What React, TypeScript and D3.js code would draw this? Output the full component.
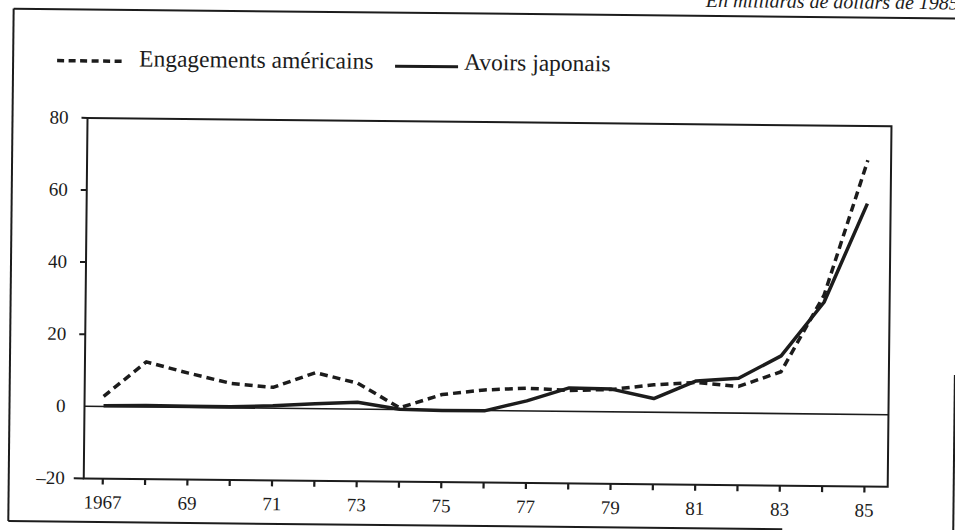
import React from 'react';
import * as d3 from 'd3';

const years = [1967, 1968, 1969, 1970, 1971, 1972, 1973, 1974, 1975, 1976, 1977, 1978, 1979, 1980, 1981, 1982, 1983, 1984, 1985];
const engagementsUS = [2.8, 12.5, 9.5, 6.8, 5.8, 10.0, 7.2, 0.5, 4.3, 5.7, 6.3, 5.8, 6.2, 7.6, 8.4, 7.4, 11.6, 33, 70.5];
const avoirsJapon = [0.2, 0.4, 0.3, 0.3, 0.7, 1.4, 1.9, 0.1, -0.1, -0.1, 2.8, 6.5, 6.3, 3.8, 8.8, 9.7, 16, 31, 58.5];
const yTicks = [-20, 0, 20, 40, 60, 80];
const xLabelYears = [1967, 1969, 1971, 1973, 1975, 1977, 1979, 1981, 1983, 1985];
const xLabelTexts = ['1967', '69', '71', '73', '75', '77', '79', '81', '83', '85'];
const yLabelTexts = ['–20', '0', '20', '40', '60', '80'];
const legendLabels = ['Engagements américains', 'Avoirs japonais'];
const unitNote = 'En milliards de dollars de 1985';

const W = 955;
const H = 530;
const frame = { left: 86, right: 890, top: 122, bottom: 482.5 };
const ink = '#1c1c1c';
const font = '"Liberation Serif", "Times New Roman", serif';

export default function App() {
  const x = d3.scaleLinear().domain([1966.55, 1985.55]).range([frame.left, frame.right]);
  const y = d3.scaleLinear().domain([-20, 80]).range([frame.bottom, frame.top]);
  const line = d3
    .line<number>()
    .x((_, i) => x(years[i]))
    .y((d) => y(d))
    .curve(d3.curveLinear);

  return (
    <svg
      width={W}
      height={H}
      viewBox={`0 0 ${W} ${H}`}
      style={{ position: 'absolute', left: 0, top: 0, background: '#fff' }}
    >
      <rect x={0} y={0} width={W} height={H} fill="#fff" />
      <g transform="rotate(0.6 477 265)">
        {/* outer scan frame */}
        <line x1={11} x2={960} y1={13.5} y2={13.5} stroke={ink} strokeWidth={2} />
        <line x1={11} x2={11} y1={13.5} y2={526} stroke={ink} strokeWidth={2} />
        <line x1={11} x2={785} y1={526} y2={526} stroke={ink} strokeWidth={2} />
        <line x1={956} x2={956} y1={370} y2={540} stroke={ink} strokeWidth={2} />

        {/* unit note, cut at top as in the scan */}
        <text
          x={703}
          y={4.5}
          fontFamily={font}
          fontStyle="italic"
          fontSize={20}
          fill={ink}
        >
          {unitNote}
        </text>

        {/* legend */}
        <line x1={55} x2={123} y1={65} y2={65} stroke={ink} strokeWidth={3.5} strokeDasharray="7,4.5" />
        <text x={137} y={70} fontFamily={font} fontSize={23.5} fill={ink}>
          {legendLabels[0]}
        </text>
        <line x1={393} x2={456} y1={67} y2={67} stroke={ink} strokeWidth={3} />
        <text x={462} y={70} fontFamily={font} fontSize={23.5} fill={ink}>
          {legendLabels[1]}
        </text>

        {/* plot frame */}
        <rect
          x={frame.left}
          y={frame.top}
          width={frame.right - frame.left}
          height={frame.bottom - frame.top}
          fill="none"
          stroke={ink}
          strokeWidth={2}
        />
        {/* zero line */}
        <line x1={frame.left} x2={frame.right} y1={y(0)} y2={y(0)} stroke={ink} strokeWidth={1.6} />

        {/* y ticks & labels */}
        {yTicks.map((t, i) => (
          <g key={t}>
            {t !== 0 && (
              <line
                x1={frame.left - (t === -20 ? 10 : 6)}
                x2={frame.left}
                y1={y(t)}
                y2={y(t)}
                stroke={ink}
                strokeWidth={2}
              />
            )}
            <text
              x={67}
              y={y(t) + 6}
              textAnchor="end"
              fontFamily={font}
              fontSize={19}
              fill={ink}
            >
              {yLabelTexts[i]}
            </text>
          </g>
        ))}

        {/* x ticks */}
        {years.map((yr) => (
          <line
            key={yr}
            x1={x(yr)}
            x2={x(yr)}
            y1={frame.bottom}
            y2={frame.bottom + 6}
            stroke={ink}
            strokeWidth={2.2}
          />
        ))}
        {xLabelYears.map((yr, i) => (
          <text
            key={yr}
            x={x(yr)}
            y={512.5}
            textAnchor="middle"
            fontFamily={font}
            fontSize={19}
            fill={ink}
          >
            {xLabelTexts[i]}
          </text>
        ))}

        {/* series */}
        <path
          d={line(avoirsJapon) || ''}
          fill="none"
          stroke={ink}
          strokeWidth={3.5}
          strokeLinejoin="round"
        />
        <path
          d={line(engagementsUS) || ''}
          fill="none"
          stroke={ink}
          strokeWidth={3.5}
          strokeDasharray="8,5"
          strokeLinejoin="round"
        />
      </g>
    </svg>
  );
}
